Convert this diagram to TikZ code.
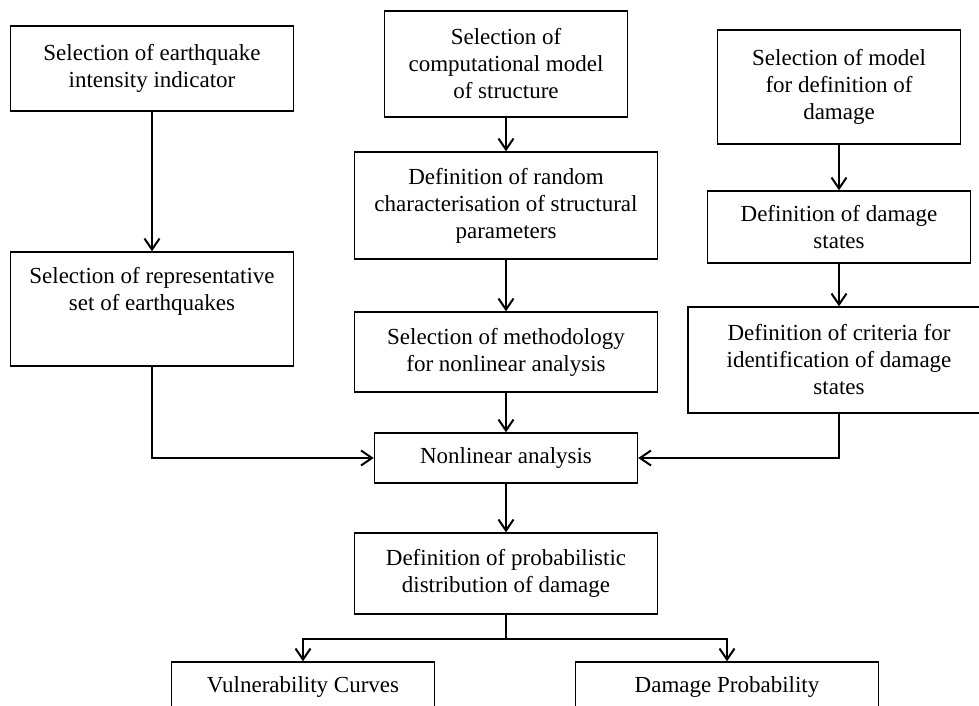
\documentclass[tikz,border=0pt]{standalone}
\usepackage{fontspec}
\setmainfont{Liberation Serif}
\usetikzlibrary{arrows.meta}
\begin{document}
\begin{tikzpicture}[x=1pt,y=-1pt,
  box/.style={draw,line width=1.4pt,minimum width=#1,inner sep=0pt,align=center,
    font=\fontsize{23}{27}\selectfont},
  lbl/.style={inner sep=0pt,align=center,font=\fontsize{23}{27}\selectfont},
  arr/.style={line width=2pt,-{Straight Barb[length=11pt,width=15pt,line width=2pt]}},
  ln/.style={line width=2pt}]
\clip (0,0) rectangle (979,706);
\fill[white] (0,0) rectangle (979,706);
% left column
\node[box=283pt,minimum height=85pt] (A) at (152,68.5) {Selection of earthquake\\intensity indicator};
\node[box=283pt,minimum height=114pt] (B) at (152,309) {};
\node[lbl,anchor=north] (Bt) at (152,267) {Selection of representative\\set of earthquakes};
% middle column
\node[box=243pt,minimum height=106pt] (C) at (506,64) {Selection of\\computational model\\of structure};
\node[box=303pt,minimum height=107pt] (D) at (506,205.5) {Definition of random\\characterisation of structural\\parameters};
\node[box=303pt,minimum height=80pt] (E) at (506,352) {Selection of methodology\\for nonlinear analysis};
\node[box=263pt,minimum height=50pt] (F) at (506,458) {Nonlinear analysis};
\node[box=303pt,minimum height=81pt] (G) at (506,573.5) {Definition of probabilistic\\distribution of damage};
% right column
\node[box=243pt,minimum height=114pt] (J) at (839,87) {Selection of model\\for definition of\\damage};
\node[box=263pt,minimum height=72pt] (K) at (839,227) {Definition of damage\\states};
\node[box=302pt,minimum height=106pt] (L) at (839,360) {Definition of criteria for\\identification of damage\\states};
% bottom
\node[box=263pt,minimum height=50pt] (H) at (303,687) {Vulnerability Curves};
\node[box=303pt,minimum height=50pt] (I) at (727,687) {Damage Probability};
% connectors
\draw[arr] (A) -- (B);
\draw[arr] (C) -- (D);
\draw[arr] (D) -- (E);
\draw[arr] (E) -- (F);
\draw[arr] (F) -- (G);
\draw[arr] (J) -- (K);
\draw[arr] (K) -- (L);
\draw[arr] (B.south) |- (F.west);
\draw[arr] (L.south) |- (F.east);
\draw[ln] (G.south) -- ++(0,24) coordinate (j);
\draw[arr] (j) -| (H.north);
\draw[arr] (j) -| (I.north);
\end{tikzpicture}
\end{document}
